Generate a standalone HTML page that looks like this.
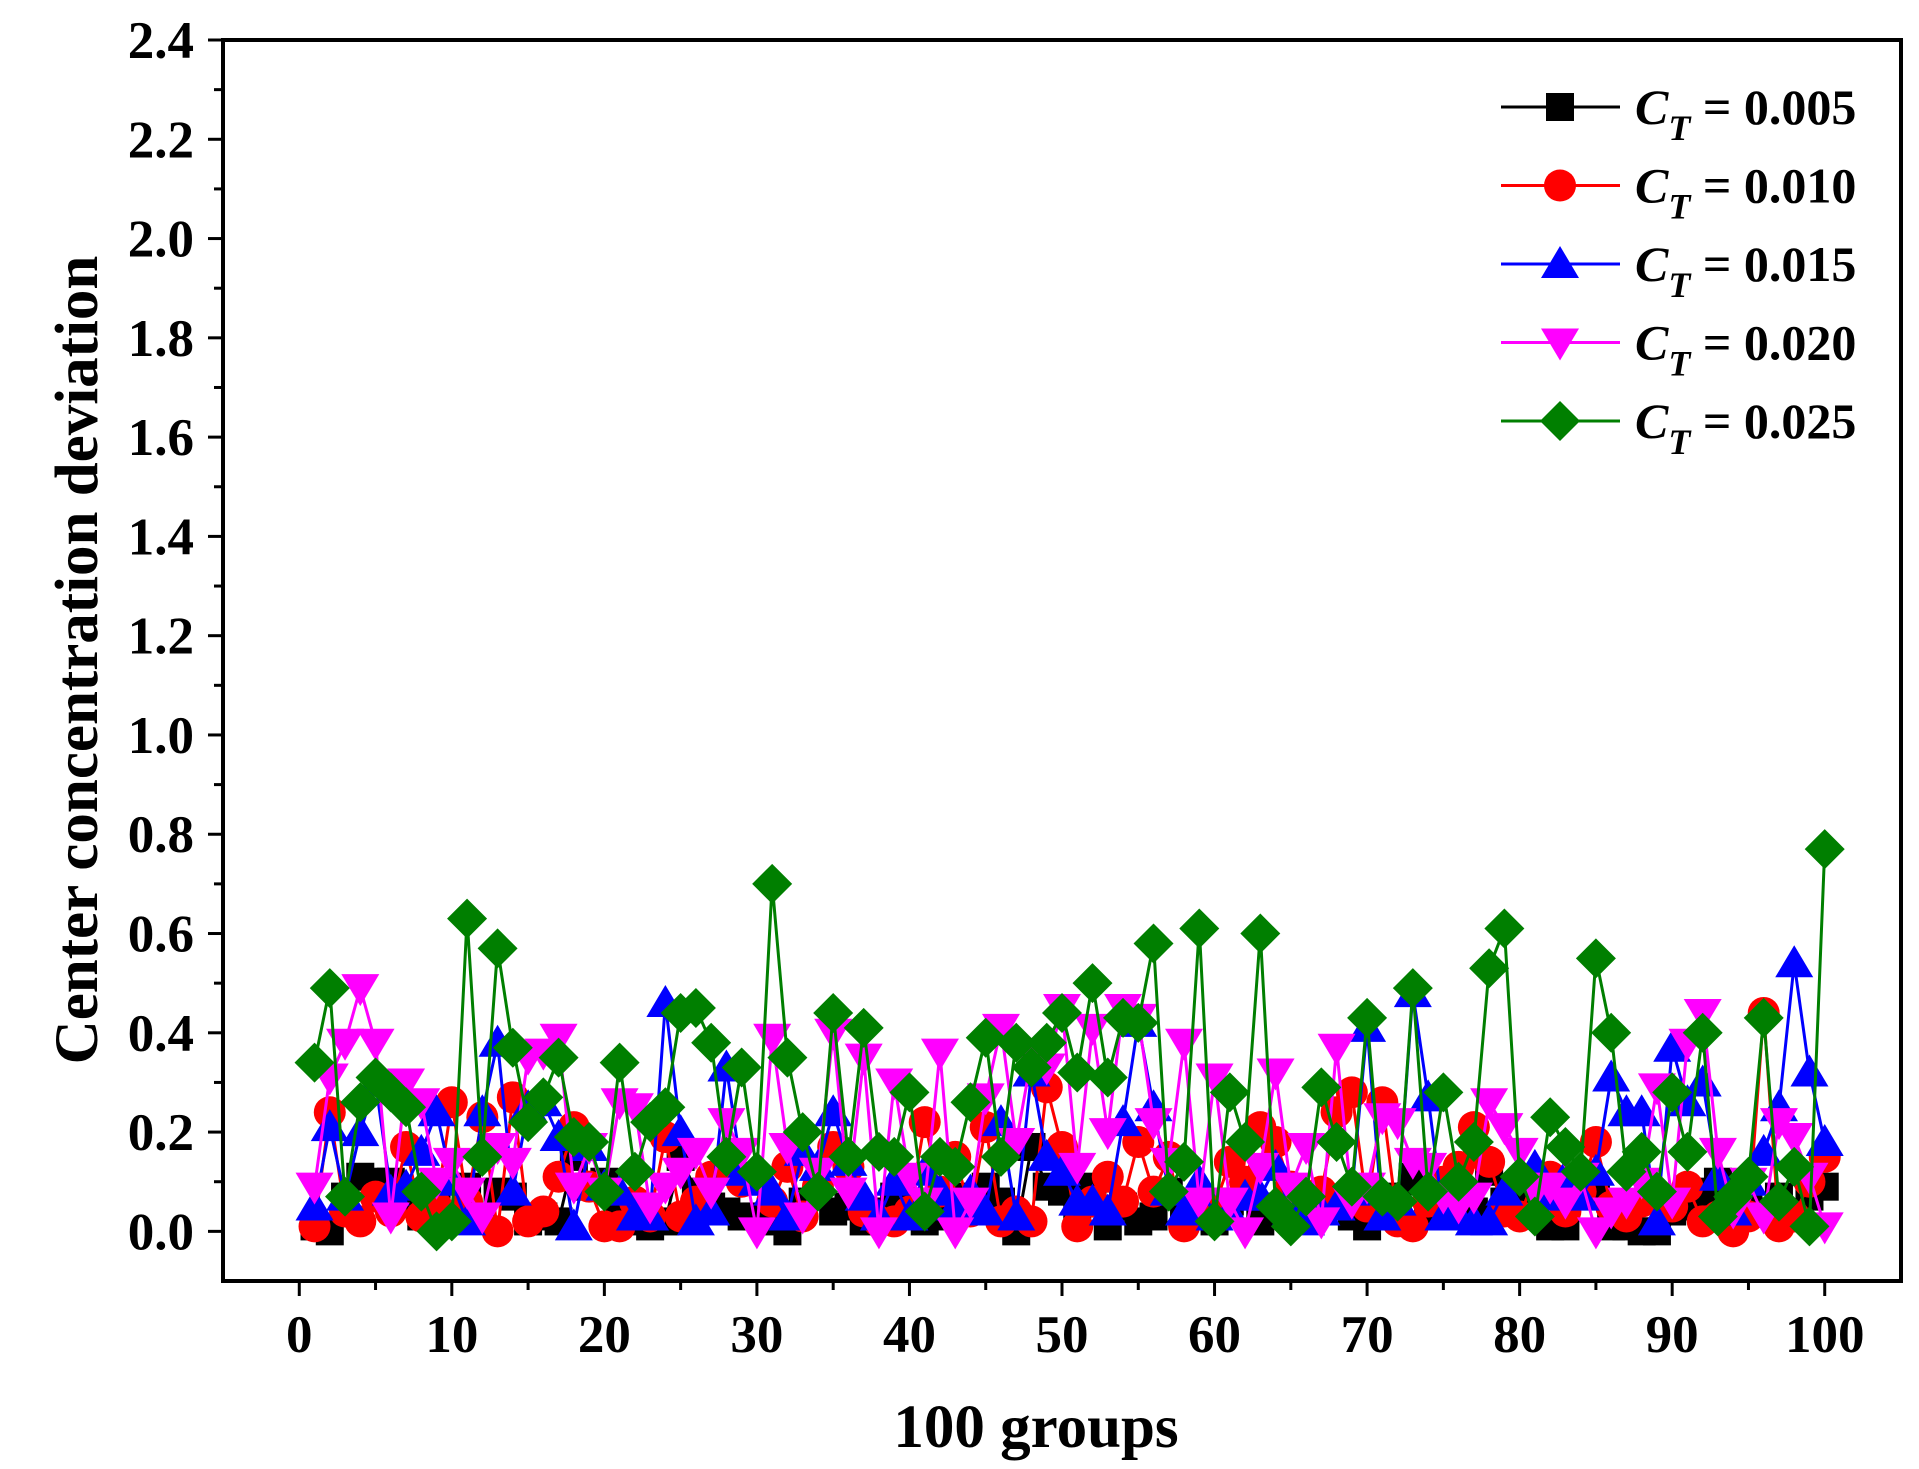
<!DOCTYPE html>
<html><head><meta charset="utf-8"><style>
html,body{margin:0;padding:0;background:#fff;}
svg{display:block;font-family:"Liberation Serif",serif;font-weight:bold;}
</style></head><body>
<svg id="chart" width="1919" height="1469" viewBox="0 0 1919 1469" xmlns="http://www.w3.org/2000/svg">
<g id="plot"></g>
<g id="axes"></g>
<g id="legend"></g>
</svg>
<script>
const xTicks = [0,10,20,30,40,50,60,70,80,90,100];
const yTicks = [0.0,0.2,0.4,0.6,0.8,1.0,1.2,1.4,1.6,1.8,2.0,2.2,2.4];
const seriesLabels = ["0.005","0.010","0.015","0.020","0.025"];
const s005 = [0.01,0.00,0.07,0.11,0.10,0.10,0.06,0.03,0.05,0.03,0.09,0.03,0.08,0.07,0.02,0.03,0.02,0.15,0.09,0.10,0.06,0.02,0.01,0.02,0.15,0.08,0.05,0.04,0.03,0.03,0.02,0.00,0.06,0.09,0.04,0.05,0.02,0.04,0.07,0.06,0.02,0.03,0.07,0.05,0.09,0.06,0.00,0.17,0.09,0.08,0.05,0.09,0.01,0.05,0.02,0.03,0.08,0.05,0.04,0.02,0.06,0.09,0.02,0.05,0.03,0.03,0.04,0.06,0.03,0.01,0.03,0.07,0.11,0.04,0.06,0.05,0.04,0.12,0.06,0.08,0.05,0.01,0.01,0.10,0.08,0.01,0.01,0.00,0.00,0.04,0.05,0.08,0.10,0.03,0.05,0.04,0.07,0.03,0.07,0.09];
const s010 = [0.01,0.24,0.04,0.02,0.07,0.04,0.17,0.03,0.05,0.26,0.06,0.23,0.00,0.27,0.02,0.04,0.11,0.21,0.09,0.01,0.01,0.06,0.03,0.19,0.03,0.06,0.11,0.13,0.10,0.11,0.06,0.13,0.03,0.09,0.17,0.13,0.04,0.02,0.02,0.04,0.22,0.08,0.15,0.04,0.21,0.02,0.04,0.02,0.29,0.17,0.01,0.06,0.11,0.06,0.18,0.08,0.15,0.01,0.05,0.05,0.14,0.10,0.21,0.18,0.09,0.05,0.08,0.24,0.28,0.05,0.26,0.02,0.01,0.06,0.10,0.13,0.21,0.14,0.04,0.03,0.11,0.11,0.04,0.08,0.18,0.05,0.03,0.06,0.07,0.05,0.09,0.02,0.03,0.00,0.03,0.44,0.01,0.03,0.10,0.15];
const s015 = [0.05,0.21,0.07,0.20,0.30,0.08,0.09,0.16,0.24,0.10,0.02,0.24,0.38,0.08,0.25,0.26,0.19,0.01,0.17,0.09,0.08,0.03,0.03,0.46,0.20,0.02,0.04,0.33,0.12,0.10,0.08,0.03,0.16,0.13,0.24,0.14,0.07,0.03,0.10,0.03,0.12,0.08,0.05,0.08,0.04,0.22,0.03,0.32,0.15,0.12,0.06,0.06,0.04,0.22,0.42,0.25,0.08,0.04,0.10,0.03,0.04,0.07,0.07,0.13,0.04,0.02,0.04,0.05,0.08,0.41,0.03,0.06,0.48,0.27,0.03,0.03,0.02,0.02,0.08,0.12,0.13,0.07,0.11,0.07,0.12,0.31,0.24,0.24,0.02,0.37,0.26,0.30,0.11,0.04,0.10,0.16,0.25,0.54,0.32,0.18];
const s020 = [0.09,0.31,0.38,0.49,0.38,0.03,0.30,0.26,0.10,0.14,0.08,0.03,0.17,0.14,0.35,0.36,0.39,0.09,0.17,0.08,0.26,0.25,0.05,0.09,0.12,0.16,0.08,0.22,0.16,0.00,0.39,0.17,0.03,0.12,0.40,0.08,0.35,0.00,0.30,0.11,0.06,0.36,0.00,0.06,0.27,0.41,0.18,0.35,0.33,0.45,0.13,0.41,0.20,0.45,0.43,0.22,0.14,0.38,0.06,0.31,0.06,0.00,0.13,0.32,0.09,0.17,0.02,0.37,0.06,0.09,0.23,0.22,0.14,0.13,0.07,0.05,0.07,0.26,0.21,0.16,0.08,0.09,0.06,0.11,0.00,0.04,0.06,0.10,0.29,0.06,0.38,0.44,0.16,0.04,0.10,0.03,0.22,0.19,0.11,0.01];
const s025 = [0.34,0.49,0.07,0.26,0.31,0.28,0.25,0.08,0.00,0.02,0.63,0.15,0.57,0.37,0.22,0.27,0.35,0.19,0.18,0.08,0.34,0.12,0.22,0.25,0.44,0.45,0.38,0.15,0.33,0.12,0.70,0.35,0.20,0.08,0.44,0.15,0.41,0.16,0.15,0.28,0.04,0.15,0.13,0.26,0.39,0.15,0.38,0.33,0.38,0.44,0.32,0.50,0.31,0.43,0.42,0.58,0.08,0.14,0.61,0.02,0.28,0.18,0.60,0.05,0.01,0.07,0.29,0.18,0.09,0.43,0.07,0.06,0.49,0.08,0.28,0.10,0.18,0.53,0.61,0.11,0.03,0.23,0.17,0.12,0.55,0.40,0.12,0.16,0.08,0.28,0.16,0.40,0.03,0.07,0.11,0.43,0.06,0.13,0.01,0.77];

const NS="http://www.w3.org/2000/svg";
const L=223,T=40,R=1901,B=1281;
const xMin=-5,xMax=105,yMin=-0.1,yMax=2.4;
const X=v=>L+(v-xMin)/(xMax-xMin)*(R-L);
const Y=v=>B-(v-yMin)/(yMax-yMin)*(B-T);
function mk(tag,attrs,parent){const e=document.createElementNS(NS,tag);for(const k in attrs)e.setAttribute(k,attrs[k]);parent.appendChild(e);return e;}
const plot=document.getElementById('plot'),axes=document.getElementById('axes'),legend=document.getElementById('legend');

function marker(kind,cx,cy,color,parent){
  let e;
  if(kind==='square'){e=mk('rect',{x:cx-14,y:cy-14,width:28,height:28,fill:color},parent);}
  else if(kind==='circle'){e=mk('circle',{cx:cx,cy:cy,r:16,fill:color},parent);}
  else if(kind==='up'){e=mk('polygon',{points:`${cx},${cy-18} ${cx+19},${cy+14} ${cx-19},${cy+14}`,fill:color},parent);}
  else if(kind==='down'){e=mk('polygon',{points:`${cx},${cy+18} ${cx+19},${cy-14} ${cx-19},${cy-14}`,fill:color},parent);}
  else {e=mk('polygon',{points:`${cx},${cy-20} ${cx+20},${cy} ${cx},${cy+20} ${cx-20},${cy}`,fill:color},parent);}
  return e;
}
const series=[
 {d:s005,c:'#000000',m:'square',n:'series-0-005'},
 {d:s010,c:'#ff0000',m:'circle',n:'series-0-010'},
 {d:s015,c:'#0000ff',m:'up',n:'series-0-015'},
 {d:s020,c:'#ff00ff',m:'down',n:'series-0-020'},
 {d:s025,c:'#007f00',m:'diamond',n:'series-0-025'}];
series.forEach(s=>{
  const g=mk('g',{},plot);
  
  
  const pts=s.d.map((v,i)=>X(i+1)+','+Y(v)).join(' ');
  const pl=mk('polyline',{points:pts,fill:'none',stroke:s.c,'stroke-width':3,'stroke-linejoin':'miter'},g);
  
  
  s.d.forEach((v,i)=>{
    const m=marker(s.m,X(i+1),Y(v),s.c,g);
    
    
  });
});
const fr=mk('rect',{x:L,y:T,width:R-L,height:B-T,fill:'none',stroke:'#000','stroke-width':4},axes);


for(let v=0;v<=24;v++){
  const val=v/10, y=Y(val), major=v%2===0;
  mk('line',{x1:L,x2:L-(major?15:9),y1:y,y2:y,stroke:'#000','stroke-width':3},axes);
}
yTicks.forEach(v=>{
  const t=mk('text',{x:194,y:Y(v)+18,'text-anchor':'end','font-size':53},axes);
  t.textContent=v.toFixed(1);
  
  
});
for(let v=0;v<=100;v+=5){
  const x=X(v), major=v%10===0;
  mk('line',{x1:x,x2:x,y1:B,y2:B+(major?15:9),stroke:'#000','stroke-width':3},axes);
}
xTicks.forEach(v=>{
  const t=mk('text',{x:X(v),y:1352,'text-anchor':'middle','font-size':53},axes);
  t.textContent=String(v);
  
  
});
const xt=mk('text',{x:1036,y:1447,'text-anchor':'middle','font-size':61},axes);
xt.textContent='100 groups';


const yt=mk('text',{x:0,y:0,'text-anchor':'middle','font-size':61,transform:'translate(97,660) rotate(-90)'},axes);
yt.textContent='Center concentration deviation';


series.forEach((s,i)=>{
  const y=107+i*78.5;
  const g=mk('g',{},legend);
  
  
  mk('line',{x1:1501,x2:1620,y1:y,y2:y,stroke:s.c,'stroke-width':3},g);
  marker(s.m,1560,y,s.c,g);
  const t=mk('text',{x:1635,y:y+17,'font-size':50},g);
  const c=mk('tspan',{'font-style':'italic'},t); c.textContent='C';
  const sub=mk('tspan',{'font-style':'italic','font-size':36,dy:16},t); sub.textContent='T';
  const rest=mk('tspan',{dy:-16},t); rest.textContent=' = '+seriesLabels[i];
});
</script>
</body></html>
